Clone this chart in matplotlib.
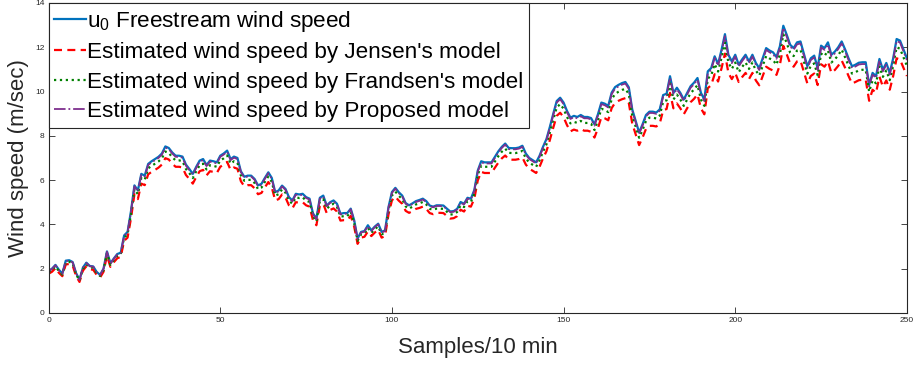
import numpy as np
import matplotlib
matplotlib.use('Agg')
from matplotlib import pyplot as plt

plt.rcParams['font.family'] = ['Liberation Sans', 'DejaVu Sans']
plt.rcParams['mathtext.fontset'] = 'custom'
plt.rcParams['mathtext.rm'] = 'Liberation Sans'
plt.rcParams['mathtext.it'] = 'Liberation Sans'

# wind speed per 10-min sample (m/sec)
freestream = [
    1.90, 2.00, 2.17, 1.95, 1.78, 2.36, 2.38, 2.30, 1.80, 1.50,
    2.05, 2.27, 2.12, 2.10, 1.85, 1.72, 2.00, 2.78, 2.24, 2.46,
    2.66, 2.72, 3.50, 3.66, 4.60, 5.76, 5.53, 6.28, 6.20, 6.73,
    6.85, 6.95, 7.05, 7.20, 7.52, 7.45, 7.25, 7.10, 7.10, 7.06,
    6.70, 6.50, 6.28, 6.60, 6.88, 6.95, 6.68, 6.88, 6.85, 6.80,
    7.10, 7.20, 7.33, 6.95, 7.06, 7.00, 6.40, 6.15, 6.20, 6.20,
    6.05, 5.76, 5.83, 6.10, 6.35, 6.10, 5.46, 5.53, 5.75, 5.60,
    5.23, 5.08, 5.38, 5.35, 5.38, 5.23, 5.16, 4.50, 4.26, 5.20,
    5.30, 4.85, 5.00, 5.08, 4.93, 4.48, 4.51, 4.51, 4.71, 4.19,
    3.36, 3.66, 3.70, 3.96, 3.73, 3.90, 4.03, 3.66, 3.73, 4.78,
    5.46, 5.65, 5.45, 5.30, 4.96, 4.86, 4.95, 5.05, 5.10, 5.16,
    5.05, 4.85, 4.80, 4.86, 4.86, 4.85, 4.71, 4.58, 4.60, 4.70,
    5.01, 4.93, 5.20, 5.16, 5.55, 6.43, 6.85, 6.80, 6.80, 6.80,
    7.05, 7.30, 7.50, 7.65, 7.45, 7.44, 7.44, 7.47, 7.55, 7.20,
    7.00, 6.90, 6.80, 7.10, 7.50, 7.85, 8.40, 9.00, 9.57, 9.72,
    9.50, 9.12, 8.82, 8.90, 8.85, 8.94, 8.85, 8.85, 8.80, 8.52,
    8.97, 9.50, 9.45, 9.35, 9.95, 10.20, 10.30, 10.38, 10.43, 10.19,
    9.19, 8.67, 8.15, 8.52, 8.94, 9.09, 9.09, 9.05, 9.19, 9.84,
    9.90, 10.69, 9.94, 10.17, 9.94, 9.64, 9.94, 10.24, 10.40, 10.61,
    9.94, 9.64, 10.91, 11.06, 11.59, 11.24, 11.88, 12.59, 11.66, 11.36,
    11.66, 11.21, 11.45, 11.66, 11.36, 11.66, 11.29, 11.05, 11.50, 11.96,
    11.85, 11.77, 11.56, 12.04, 12.97, 12.56, 12.11, 11.96, 12.22, 12.26,
    11.70, 11.14, 11.50, 11.62, 11.06, 12.07, 11.96, 12.22, 11.66, 11.80,
    12.00, 12.26, 11.90, 11.50, 11.14, 11.21, 11.30, 11.32, 11.32, 10.30,
    10.84, 10.69, 11.47, 10.99, 11.29, 10.84, 11.50, 12.37, 12.30, 11.90, 11.50,
]

jensen = [
    1.77, 1.86, 2.02, 1.81, 1.66, 2.19, 2.21, 2.14, 1.67, 1.40,
    1.91, 2.11, 1.97, 1.95, 1.72, 1.60, 1.86, 2.59, 2.08, 2.29,
    2.47, 2.53, 3.26, 3.40, 4.28, 5.36, 5.14, 5.84, 5.77, 6.26,
    6.37, 6.46, 6.56, 6.70, 6.99, 6.93, 6.74, 6.60, 6.60, 6.57,
    6.23, 6.05, 5.84, 6.14, 6.40, 6.46, 6.21, 6.40, 6.37, 6.32,
    6.60, 6.70, 6.82, 6.46, 6.57, 6.51, 5.95, 5.72, 5.77, 5.77,
    5.63, 5.36, 5.42, 5.67, 5.91, 5.67, 5.08, 5.14, 5.35, 5.21,
    4.86, 4.72, 5.00, 4.98, 5.00, 4.86, 4.80, 4.19, 3.96, 4.84,
    4.93, 4.51, 4.65, 4.72, 4.58, 4.17, 4.19, 4.19, 4.38, 3.90,
    3.12, 3.40, 3.44, 3.68, 3.47, 3.63, 3.75, 3.40, 3.47, 4.45,
    5.08, 5.25, 5.07, 4.93, 4.61, 4.52, 4.60, 4.70, 4.74, 4.80,
    4.70, 4.51, 4.46, 4.52, 4.52, 4.51, 4.38, 4.26, 4.28, 4.37,
    4.66, 4.58, 4.84, 4.80, 5.16, 5.98, 6.37, 6.32, 6.32, 6.32,
    6.56, 6.79, 6.98, 7.11, 6.93, 6.92, 6.92, 6.95, 7.02, 6.70,
    6.51, 6.42, 6.32, 6.60, 6.98, 7.30, 7.81, 8.37, 8.90, 9.04,
    8.84, 8.48, 8.20, 8.28, 8.23, 8.31, 8.23, 8.23, 8.18, 7.92,
    8.34, 8.84, 8.79, 8.70, 9.25, 9.49, 9.58, 9.65, 9.70, 9.48,
    8.55, 8.06, 7.58, 7.92, 8.31, 8.45, 8.45, 8.42, 8.55, 9.15,
    9.21, 9.94, 9.24, 9.46, 9.24, 8.97, 9.24, 9.52, 9.67, 9.87,
    9.24, 8.97, 10.15, 10.29, 10.78, 10.45, 11.05, 11.71, 10.84, 10.56,
    10.84, 10.43, 10.65, 10.84, 10.56, 10.84, 10.50, 10.28, 10.70, 11.12,
    11.02, 10.95, 10.75, 11.20, 12.06, 11.68, 11.26, 11.12, 11.36, 11.40,
    10.88, 10.36, 10.70, 10.81, 10.29, 11.23, 11.12, 11.36, 10.84, 10.97,
    11.16, 11.40, 11.07, 10.70, 10.36, 10.43, 10.51, 10.53, 10.53, 9.58,
    10.08, 9.94, 10.67, 10.22, 10.50, 10.08, 10.70, 11.50, 11.44, 11.07, 10.70,
]

frandsen = [
    1.84, 1.94, 2.10, 1.89, 1.73, 2.29, 2.31, 2.23, 1.75, 1.46,
    1.99, 2.20, 2.06, 2.04, 1.79, 1.67, 1.94, 2.70, 2.17, 2.39,
    2.58, 2.64, 3.40, 3.55, 4.46, 5.59, 5.36, 6.09, 6.01, 6.53,
    6.64, 6.74, 6.84, 6.98, 7.29, 7.23, 7.03, 6.89, 6.89, 6.85,
    6.50, 6.31, 6.09, 6.40, 6.67, 6.74, 6.48, 6.67, 6.64, 6.60,
    6.89, 6.98, 7.11, 6.74, 6.85, 6.79, 6.21, 5.97, 6.01, 6.01,
    5.87, 5.59, 5.66, 5.92, 6.16, 5.92, 5.30, 5.36, 5.58, 5.43,
    5.07, 4.93, 5.22, 5.19, 5.22, 5.07, 5.01, 4.37, 4.13, 5.04,
    5.14, 4.70, 4.85, 4.93, 4.78, 4.35, 4.37, 4.37, 4.57, 4.06,
    3.26, 3.55, 3.59, 3.84, 3.62, 3.78, 3.91, 3.55, 3.62, 4.64,
    5.30, 5.48, 5.29, 5.14, 4.81, 4.71, 4.80, 4.90, 4.95, 5.01,
    4.90, 4.70, 4.66, 4.71, 4.71, 4.70, 4.57, 4.44, 4.46, 4.56,
    4.86, 4.78, 5.04, 5.01, 5.38, 6.24, 6.64, 6.60, 6.60, 6.60,
    6.84, 7.08, 7.28, 7.42, 7.23, 7.22, 7.22, 7.25, 7.32, 6.98,
    6.79, 6.69, 6.60, 6.89, 7.28, 7.61, 8.15, 8.73, 9.28, 9.43,
    9.22, 8.85, 8.56, 8.63, 8.58, 8.67, 8.58, 8.58, 8.54, 8.26,
    8.70, 9.22, 9.17, 9.07, 9.65, 9.89, 9.99, 10.07, 10.12, 9.88,
    8.91, 8.41, 7.91, 8.26, 8.67, 8.82, 8.82, 8.78, 8.91, 9.54,
    9.60, 10.37, 9.64, 9.86, 9.64, 9.35, 9.64, 9.93, 10.09, 10.29,
    9.64, 9.35, 10.58, 10.73, 11.24, 10.90, 11.52, 12.21, 11.31, 11.02,
    11.31, 10.87, 11.11, 11.31, 11.02, 11.31, 10.95, 10.72, 11.16, 11.60,
    11.49, 11.42, 11.21, 11.68, 12.58, 12.18, 11.75, 11.60, 11.85, 11.89,
    11.35, 10.81, 11.16, 11.27, 10.73, 11.71, 11.60, 11.85, 11.31, 11.45,
    11.64, 11.89, 11.54, 11.16, 10.81, 10.87, 10.96, 10.98, 10.98, 9.99,
    10.51, 10.37, 11.13, 10.66, 10.95, 10.51, 11.16, 12.00, 11.93, 11.54, 11.16,
]

proposed = [
    1.89, 1.99, 2.15, 1.94, 1.77, 2.34, 2.36, 2.28, 1.79, 1.49,
    2.04, 2.25, 2.11, 2.09, 1.84, 1.71, 1.99, 2.76, 2.22, 2.44,
    2.64, 2.70, 3.48, 3.63, 4.57, 5.72, 5.49, 6.24, 6.16, 6.68,
    6.80, 6.90, 7.00, 7.15, 7.47, 7.40, 7.20, 7.05, 7.05, 7.01,
    6.65, 6.45, 6.24, 6.55, 6.83, 6.90, 6.63, 6.83, 6.80, 6.75,
    7.05, 7.15, 7.28, 6.90, 7.01, 6.95, 6.36, 6.11, 6.16, 6.16,
    6.01, 5.72, 5.79, 6.06, 6.31, 6.06, 5.42, 5.49, 5.71, 5.56,
    5.19, 5.04, 5.34, 5.31, 5.34, 5.19, 5.12, 4.47, 4.23, 5.16,
    5.26, 4.82, 4.97, 5.04, 4.90, 4.45, 4.48, 4.48, 4.68, 4.16,
    3.34, 3.63, 3.67, 3.93, 3.70, 3.87, 4.00, 3.63, 3.70, 4.75,
    5.42, 5.61, 5.41, 5.26, 4.93, 4.83, 4.92, 5.01, 5.06, 5.12,
    5.01, 4.82, 4.77, 4.83, 4.83, 4.82, 4.68, 4.55, 4.57, 4.67,
    4.97, 4.90, 5.16, 5.12, 5.51, 6.38, 6.80, 6.75, 6.75, 6.75,
    7.00, 7.25, 7.45, 7.60, 7.40, 7.39, 7.39, 7.42, 7.50, 7.15,
    6.95, 6.85, 6.75, 7.05, 7.45, 7.80, 8.34, 8.94, 9.50, 9.65,
    9.43, 9.06, 8.76, 8.84, 8.79, 8.88, 8.79, 8.79, 8.74, 8.46,
    8.91, 9.43, 9.38, 9.28, 9.88, 10.13, 10.23, 10.31, 10.36, 10.12,
    9.13, 8.61, 8.09, 8.46, 8.88, 9.03, 9.03, 8.99, 9.13, 9.77,
    9.83, 10.62, 9.87, 10.10, 9.87, 9.57, 9.87, 10.17, 10.33, 10.54,
    9.87, 9.57, 10.83, 10.98, 11.51, 11.16, 11.80, 12.50, 11.58, 11.28,
    11.58, 11.13, 11.37, 11.58, 11.28, 11.58, 11.21, 10.97, 11.42, 11.88,
    11.77, 11.69, 11.48, 11.96, 12.88, 12.47, 12.03, 11.88, 12.13, 12.17,
    11.62, 11.06, 11.42, 11.54, 10.98, 11.99, 11.88, 12.13, 11.58, 11.72,
    11.92, 12.17, 11.82, 11.42, 11.06, 11.13, 11.22, 11.24, 11.24, 10.23,
    10.76, 10.61, 11.39, 10.91, 11.21, 10.76, 11.42, 12.28, 12.21, 11.82, 11.42,
]

labels = [
    r'u$_{0}$ Freestream wind speed',
    "Estimated wind speed by Jensen's model",
    "Estimated wind speed by Frandsen's model",
    "Estimated wind speed by Proposed model",
]

samples = np.arange(len(freestream))

fig = plt.figure(figsize=(9.17, 3.66), dpi=100)
ax = fig.add_axes([0.053, 0.145, 0.936, 0.847])

ax.plot(samples, freestream, color='#0072BD', lw=1.6, label=labels[0])
ax.plot(samples, jensen, color='#FF0000', lw=1.6, dashes=(3.6, 2.4), label=labels[1])
ax.plot(samples, frandsen, color='#008000', lw=1.6, linestyle=':', label=labels[2])
ax.plot(samples, proposed, color='#7E2F8E', lw=1.3, linestyle='-.', label=labels[3])

ax.set_xlim(0, 250)
ax.set_ylim(0, 14)
ax.set_xticks([0, 50, 100, 150, 200, 250])
ax.set_yticks([0, 2, 4, 6, 8, 10, 12, 14])
ax.tick_params(direction='in', top=True, right=True, labelsize=6,
               colors='#262626', length=4, width=0.6, pad=3)
for sp in ax.spines.values():
    sp.set_color('#262626')
    sp.set_linewidth(0.8)

ax.set_xlabel('Samples/10 min', fontsize=16, color='#262626', labelpad=9)
ax.set_ylabel('Wind speed (m/sec)', fontsize=16, color='#262626', labelpad=4)

leg = ax.legend(loc='upper left', fontsize=16.2, handlelength=1.4,
                handletextpad=0.05, borderaxespad=0, borderpad=0.25,
                labelspacing=0.38, fancybox=False, framealpha=1,
                edgecolor='#262626')
leg.get_frame().set_linewidth(0.8)

plt.savefig('out.png', dpi=100)
